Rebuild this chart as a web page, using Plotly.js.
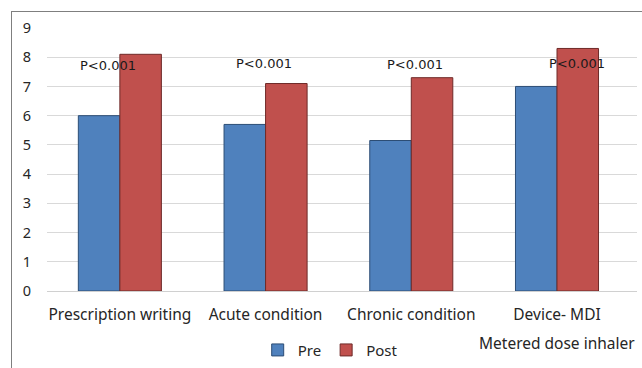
<!DOCTYPE html>
<html>
<head>
<meta charset="utf-8">
<script src="https://cdn.plot.ly/plotly-3.0.1.min.js"></script>
<style>
html,body{margin:0;padding:0;background:#fff;overflow:hidden;}
#wrap{position:relative;width:642px;height:368px;overflow:hidden;}
#frame{position:absolute;left:11px;top:11px;width:700px;height:400px;border:1px solid #7f7f7f;box-sizing:border-box;pointer-events:none;}
#chart{position:absolute;left:0;top:0;width:642px;height:368px;}
</style>
</head>
<body>
<div id="wrap"><div id="chart"></div><div id="frame"></div></div>
<script>
const categories = ["Prescription writing", "Acute condition", "Chronic condition", "Device- MDI"];
const deviceNote = "Metered dose inhaler";
const preValues = [6.0, 5.7, 5.15, 7.0];
const postValues = [8.1, 7.1, 7.3, 8.3];
const pLabels = ["P<0.001", "P<0.001", "P<0.001", "P<0.001"];
const pLabelY = [7.72, 7.8, 7.75, 7.78];
const pLabelShift = [-12, -2, 4, 20];

const traces = [
  {type:'bar', name:'Pre', x:categories, y:preValues,
   marker:{color:'#4f81bd', line:{color:'#2c4d75', width:1}}},
  {type:'bar', name:'Post', x:categories, y:postValues,
   marker:{color:'#c0504d', line:{color:'#6e2a28', width:1}}}
];

const annotations = categories.map((c,i)=>({
  x:c, y:pLabelY[i], xref:'x', yref:'y', text:pLabels[i], showarrow:false,
  xshift:pLabelShift[i], font:{family:'DejaVu Sans', size:13, color:'#1a1a1a'}
}));
annotations.push({
  x:categories[3], y:0, xref:'x', yref:'y', text:deviceNote, showarrow:false,
  yshift:-52, font:{family:'Noto Sans', size:15.5, color:'#262626'}
});

const layout = {
  width:642, height:368,
  margin:{l:47, r:5, t:28, b:77, autoexpand:false},
  paper_bgcolor:'rgba(0,0,0,0)', plot_bgcolor:'#fff',
  barmode:'group', bargap:0.43, bargroupgap:0,
  font:{family:'Noto Sans', size:14, color:'#262626'},
  xaxis:{type:'category', showgrid:false, showline:true, linecolor:'#d0d0d0', linewidth:1,
         automargin:false,
         ticks:'outside', ticklen:9, tickcolor:'rgba(0,0,0,0)',
         tickfont:{family:'Noto Sans', size:15.5, color:'#262626'}},
  yaxis:{range:[0,9], dtick:1, showgrid:true, gridcolor:'#d9d9d9', gridwidth:1,
         zeroline:false, showline:false, automargin:false,
         ticks:'outside', ticklen:12, tickcolor:'rgba(0,0,0,0)',
         tickfont:{family:'Noto Sans', size:14.5, color:'#262626'}},
  showlegend:true,
  legend:{orientation:'h', x:0.48, xanchor:'center', y:-0.225, yanchor:'middle',
          font:{family:'Noto Sans', size:15, color:'#262626'}, itemwidth:30, tracegroupgap:0},
  annotations:annotations
};

Plotly.newPlot('chart', traces, layout, {displayModeBar:false, staticPlot:true});
</script>
</body>
</html>
